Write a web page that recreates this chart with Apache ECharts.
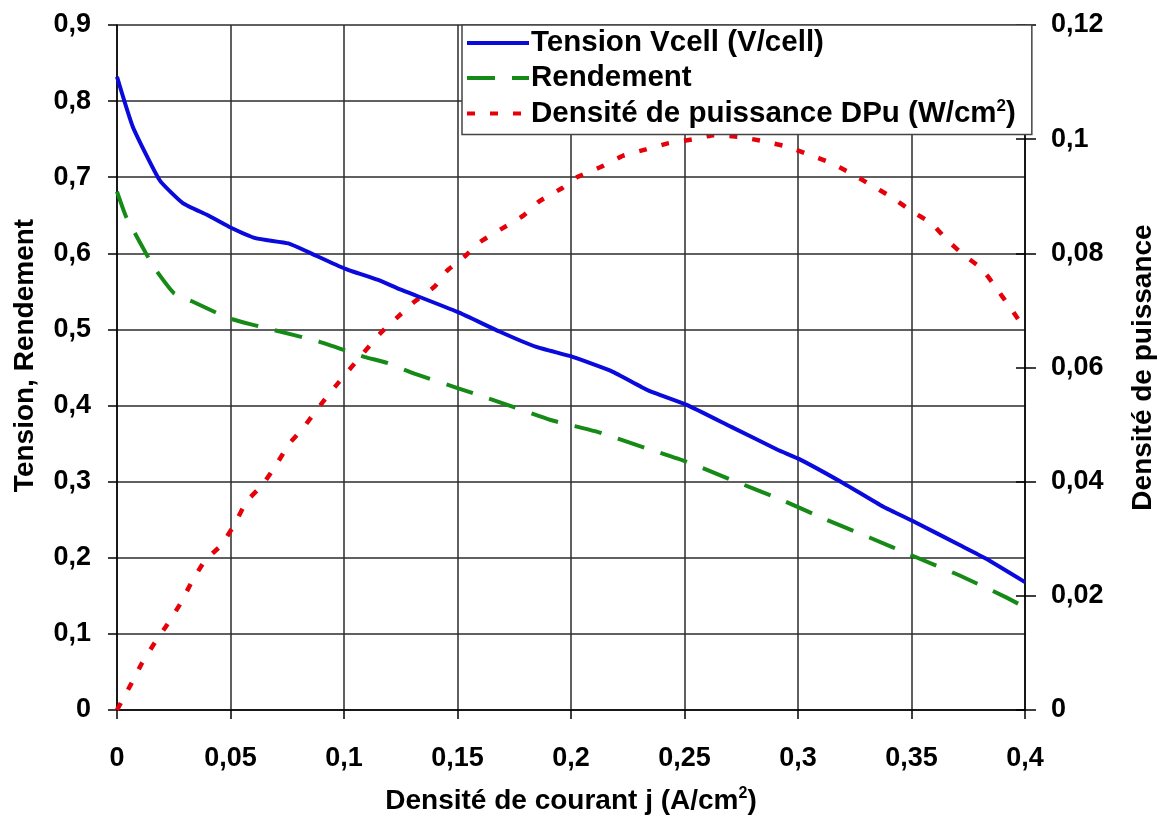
<!DOCTYPE html>
<html>
<head>
<meta charset="utf-8">
<script src="https://cdn.jsdelivr.net/npm/echarts@6/dist/echarts.min.js"></script>
<style>
  html, body { margin: 0; padding: 0; background: #ffffff; }
  #chart { width: 1165px; height: 820px; }
</style>
</head>
<body>
<div id="chart"></div>
<script>
(function () {
  // Tension Vcell (V/cell) vs j (A/cm2)
  var jVcell = [0, 0.007, 0.0188, 0.029, 0.04, 0.0493, 0.061, 0.0755, 0.084, 0.1003, 0.115, 0.1236, 0.15, 0.1687, 0.1847, 0.2007, 0.218, 0.234, 0.251, 0.2706, 0.291, 0.301, 0.32, 0.3376, 0.3514, 0.371, 0.3827, 0.4];
  var vcell = [0.832, 0.766, 0.696, 0.666, 0.650, 0.635, 0.620, 0.613, 0.602, 0.580, 0.565, 0.554, 0.523, 0.497, 0.477, 0.464, 0.445, 0.420, 0.401, 0.372, 0.342, 0.329, 0.298, 0.267, 0.247, 0.217, 0.199, 0.168];

  // Rendement
  var jRend = [0, 0.004, 0.010, 0.016, 0.025, 0.033, 0.049, 0.060, 0.068, 0.089, 0.109, 0.119, 0.131, 0.150, 0.170, 0.191, 0.211, 0.231, 0.251, 0.271, 0.292, 0.311, 0.332, 0.351, 0.371, 0.391, 0.4];
  var rend = [0.681, 0.648, 0.615, 0.583, 0.548, 0.537, 0.515, 0.506, 0.500, 0.484, 0.464, 0.456, 0.442, 0.423, 0.403, 0.381, 0.366, 0.346, 0.326, 0.302, 0.277, 0.252, 0.226, 0.202, 0.177, 0.149, 0.135];

  // Densite de puissance DPu (W/cm2), right axis
  var jDpu = [0, 0.006, 0.011, 0.017, 0.022, 0.028, 0.033, 0.039, 0.046, 0.052, 0.057, 0.064, 0.070, 0.076, 0.082, 0.089, 0.096, 0.116, 0.123, 0.131, 0.140, 0.145, 0.153, 0.160, 0.169, 0.179, 0.186, 0.196, 0.203, 0.214, 0.223, 0.233, 0.243, 0.254, 0.263, 0.274, 0.284, 0.295, 0.304, 0.314, 0.323, 0.332, 0.341, 0.350, 0.359, 0.365, 0.373, 0.381, 0.387, 0.394, 0.4];
  var dpu = [0, 0.0044, 0.0082, 0.012, 0.0149, 0.0187, 0.0225, 0.0263, 0.0289, 0.0327, 0.0365, 0.0394, 0.0429, 0.0467, 0.0494, 0.0531, 0.0566, 0.066, 0.0686, 0.0715, 0.0742, 0.0768, 0.0794, 0.082, 0.0842, 0.0866, 0.0891, 0.0914, 0.0934, 0.0953, 0.0971, 0.0982, 0.0993, 0.1, 0.1007, 0.1004, 0.0997, 0.0987, 0.0974, 0.0959, 0.0941, 0.092, 0.0899, 0.0874, 0.0852, 0.0826, 0.0797, 0.0773, 0.0741, 0.0702, 0.0667];

  var seriesNames = ["Tension Vcell (V/cell)", "Rendement", "Densité de puissance DPu (W/cm2)"];

  var font = "'Liberation Sans', Arial, sans-serif";
  var gridColor = "#2b2b2b";

  function pairs(xs, ys) {
    return xs.map(function (x, i) {
      return [x, ys[i]];
    });
  }

  function formatTick(value) {
    if (value === 0) {
      return "0";
    }
    return String(parseFloat(value.toFixed(3))).replace(".", ",");
  }

  function supStyle(size) {
    return {
      fontSize: size,
      fontWeight: "bold",
      fontFamily: font,
      color: "#000",
      verticalAlign: "top",
      padding: [0, 0, 14, 0]
    };
  }

  var labelStyle = {
    color: "#000",
    fontSize: 27,
    fontWeight: "bold",
    fontFamily: font
  };

  var chart = echarts.init(document.getElementById("chart"), null, { renderer: "canvas" });

  chart.setOption({
    animation: false,
    backgroundColor: "#ffffff",
    grid: {
      left: 117,
      right: 131,
      top: 25,
      bottom: 110,
      containLabel: false
    },
    legend: {
      orient: "vertical",
      left: 462,
      top: 25,
      itemWidth: 62,
      itemHeight: 24,
      itemGap: 5,
      padding: [3, 16, 6, 3],
      backgroundColor: "#ffffff",
      borderColor: "#444",
      borderWidth: 1.5,
      borderRadius: 0,
      data: seriesNames,
      // hide the marker dot, keep only the line sample
      itemStyle: { opacity: 0 },
      lineStyle: { width: 4 },
      formatter: function (name) {
        return name.replace("cm2", "cm{sup|2}");
      },
      textStyle: {
        color: "#000",
        fontSize: 29.5,
        fontWeight: "bold",
        fontFamily: font,
        padding: [0, 0, 0, -3],
        rich: { sup: supStyle(17) }
      }
    },
    xAxis: {
      type: "value",
      min: 0,
      max: 0.4,
      interval: 0.05,
      name: "Densité de courant j (A/cm{sup|2})",
      nameLocation: "middle",
      nameGap: 76,
      nameTextStyle: {
        color: "#000",
        fontSize: 28,
        fontWeight: "bold",
        fontFamily: font,
        rich: { sup: supStyle(16) }
      },
      axisLine: { lineStyle: { color: "#000", width: 1.5 } },
      axisTick: { show: true, length: 9, lineStyle: { color: "#000", width: 1.5 } },
      axisLabel: Object.assign({ margin: 35, formatter: formatTick }, labelStyle),
      splitLine: { show: true, lineStyle: { color: gridColor, width: 1.5 } }
    },
    yAxis: [
      {
        type: "value",
        position: "left",
        min: 0,
        max: 0.9,
        interval: 0.1,
        name: "Tension, Rendement",
        nameLocation: "middle",
        nameRotate: 90,
        nameGap: 78,
        nameTextStyle: {
          color: "#000",
          fontSize: 28,
          fontWeight: "bold",
          fontFamily: font,
          padding: [0, 0, 0, 24]
        },
        axisLine: { show: true, lineStyle: { color: "#000", width: 1.5 } },
        axisTick: { show: true, length: 9, lineStyle: { color: "#000", width: 1.5 } },
        axisLabel: Object.assign({ margin: 26, formatter: formatTick }, labelStyle),
        splitLine: { show: true, lineStyle: { color: gridColor, width: 1.5 } }
      },
      {
        type: "value",
        position: "right",
        min: 0,
        max: 0.12,
        interval: 0.02,
        name: "Densité de puissance",
        nameLocation: "middle",
        nameRotate: 90,
        nameGap: 104,
        nameTextStyle: {
          color: "#000",
          fontSize: 28,
          fontWeight: "bold",
          fontFamily: font
        },
        axisLine: { show: true, lineStyle: { color: "#000", width: 1.5 } },
        axisTick: { show: true, length: 11, lineStyle: { color: "#000", width: 1.5 } },
        axisLabel: Object.assign({ margin: 26, formatter: formatTick }, labelStyle),
        splitLine: { show: false }
      },
      {
        // inner half of the crossing ticks on the right axis
        type: "value",
        position: "right",
        min: 0,
        max: 0.12,
        interval: 0.02,
        axisLine: { show: false },
        axisTick: { show: true, inside: true, length: 9, lineStyle: { color: "#000", width: 1.5 } },
        axisLabel: { show: false },
        splitLine: { show: false }
      }
    ],
    series: [
      {
        name: seriesNames[0],
        type: "line",
        yAxisIndex: 0,
        data: pairs(jVcell, vcell),
        symbol: "none",
        smooth: 0.15,
        lineStyle: { color: "#0a0adc", width: 4 },
        itemStyle: { color: "#0a0adc" },
        z: 4
      },
      {
        name: seriesNames[1],
        type: "line",
        yAxisIndex: 0,
        data: pairs(jRend, rend),
        symbol: "none",
        smooth: 0.15,
        lineStyle: { color: "#168a16", width: 4, type: [28, 17] },
        itemStyle: { color: "#168a16" },
        z: 3
      },
      {
        name: seriesNames[2],
        type: "line",
        yAxisIndex: 1,
        data: pairs(jDpu, dpu),
        symbol: "none",
        smooth: 0.15,
        lineStyle: { color: "#e5000a", width: 4.5, type: [8, 15] },
        itemStyle: { color: "#e5000a" },
        z: 2
      }
    ]
  });
})();
</script>
</body>
</html>
